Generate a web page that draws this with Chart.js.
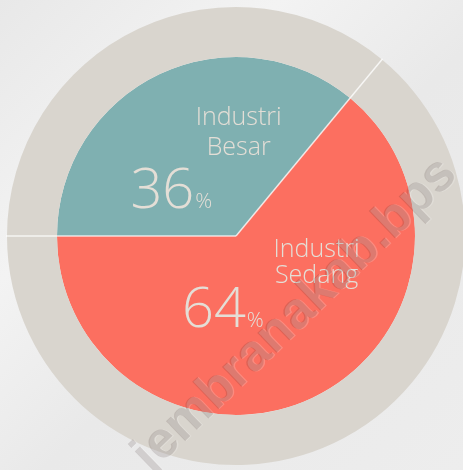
<!DOCTYPE html>
<html>
<head>
<meta charset="utf-8">
<script src="https://cdn.jsdelivr.net/npm/chart.js@4.4.1/dist/chart.umd.min.js"></script>
<style>
  html, body {
    margin: 0;
    padding: 0;
    width: 463px;
    height: 470px;
    overflow: hidden;
    background: linear-gradient(135deg, #e8e8e8 0%, #f3f3f3 30%, #e9e9e9 55%, #ededed 100%);
  }
  canvas { display: block; }
</style>
</head>
<body>
<canvas id="chart" width="463" height="470"></canvas>
<script>
const categories = ["Industri Besar", "Industri Sedang"];
const shares = [36, 64];
const sliceColors = ["#7fb0b1", "#fc6f60"];
const ringColor = "#d9d5ce";
const labelColor = "#e4ded6";
const watermark = "jembranakab.bps";

// label placement, relative to pie centre in units of the pie radius
const labelSpots = [
  { name: ["Industri", "Besar"], nx: 0.015, ny: [-0.62, -0.455], pctX: -0.59, pctY: -0.157 },
  { name: ["Industri", "Sedang"], nx: 0.45, ny: [0.118, 0.263], pctX: -0.302, pctY: 0.508 },
];

const sliceLines = {
  id: "sliceLines",
  afterDatasetsDraw(chart) {
    const ctx = chart.ctx;
    const ring = chart.getDatasetMeta(0).data;
    const pie = chart.getDatasetMeta(1).data;
    ctx.save();
    ctx.strokeStyle = "rgba(255,255,255,0.75)";
    ctx.lineWidth = 1.5;
    pie.forEach((arc, i) => {
      const a = arc.startAngle;
      const r = ring[i].outerRadius + 1;
      ctx.beginPath();
      ctx.moveTo(arc.x, arc.y);
      ctx.lineTo(arc.x + Math.cos(a) * r, arc.y + Math.sin(a) * r);
      ctx.stroke();
    });
    ctx.restore();
  },
};

const sliceLabels = {
  id: "sliceLabels",
  afterDraw(chart) {
    const ctx = chart.ctx;
    const pie = chart.getDatasetMeta(1).data;
    const cx = pie[0].x;
    const cy = pie[0].y;
    const r = pie[0].outerRadius;
    ctx.save();
    ctx.fillStyle = labelColor;
    ctx.textBaseline = "alphabetic";
    labelSpots.forEach((spot, i) => {
      ctx.font = "300 25px 'Open Sans', 'DejaVu Sans', sans-serif";
      ctx.textAlign = "center";
      spot.name.forEach((line, j) => {
        ctx.fillText(line, cx + spot.nx * r, cy + spot.ny[j] * r);
      });
      ctx.textAlign = "left";
      ctx.font = "300 56px 'Open Sans', 'DejaVu Sans', sans-serif";
      const num = String(shares[i]);
      const px = cx + spot.pctX * r;
      const py = cy + spot.pctY * r;
      ctx.fillText(num, px, py);
      const w = ctx.measureText(num).width;
      ctx.font = "300 21px 'Open Sans', 'DejaVu Sans', sans-serif";
      ctx.fillText("%", px + w + 1, py);
    });

    // diagonal watermark
    ctx.translate(cx + 0.33 * r, cy + 0.44 * r);
    ctx.rotate(-44 * Math.PI / 180);
    ctx.font = "bold 52px 'Liberation Sans', Arial, sans-serif";
    ctx.textAlign = "center";
    ctx.textBaseline = "middle";
    ctx.fillStyle = "rgba(255,255,255,0.2)";
    ctx.fillText(watermark, 1, 1);
    ctx.fillStyle = "rgba(50,30,30,0.15)";
    ctx.fillText(watermark, 0, 0);
    ctx.restore();
  },
};

new Chart(document.getElementById("chart"), {
  type: "pie",
  data: {
    labels: categories,
    datasets: [
      {
        label: "ring",
        data: shares,
        backgroundColor: [ringColor, ringColor],
        borderWidth: 0,
        weight: 50,
      },
      {
        label: "share",
        data: shares,
        backgroundColor: sliceColors,
        borderWidth: 0,
        weight: 179,
      },
    ],
  },
  options: {
    responsive: false,
    animation: false,
    events: [],
    rotation: -90,
    radius: 229,
    hoverOffset: 0,
    layout: { padding: { left: 9, top: 2 } },
    plugins: {
      legend: { display: false },
      tooltip: { enabled: false },
    },
  },
  plugins: [sliceLines, sliceLabels],
});
</script>
</body>
</html>
